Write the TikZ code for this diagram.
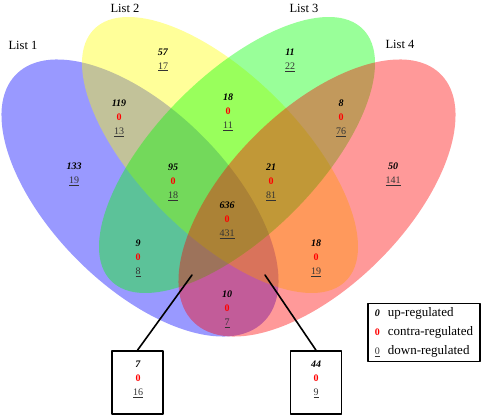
\documentclass[tikz,border=0pt]{standalone}
\usepackage{fontspec}
\setmainfont{Liberation Serif}
\definecolor{listblue}{RGB}{0,0,255}
\definecolor{listyellow}{RGB}{255,255,0}
\definecolor{listgreen}{RGB}{0,255,0}
\definecolor{listred}{RGB}{255,0,0}
\definecolor{contrared}{RGB}{255,0,0}
\newcommand{\upreg}[1]{\textbf{\textit{#1}}}
\newcommand{\contrareg}[1]{\textcolor{contrared}{\textbf{#1}}}
\newcommand{\downreg}[1]{\textcolor{black!80}{\underline{#1}}}
\newcommand{\legsym}[1]{{\fontsize{10}{10}\selectfont #1}}

\begin{document}
\begin{tikzpicture}[x=1pt,y=-1pt,line cap=round,line join=round,
    count/.style={align=center,font=\fontsize{10}{14}\selectfont,inner sep=0pt},
    listname/.style={font=\fontsize{12.5}{14}\selectfont,inner sep=0pt},
    countbox/.style={draw,line width=1.6pt,minimum width=51pt,minimum height=63pt,inner sep=0pt},
    legendbox/.style={draw,line width=1.6pt,align=left,font=\fontsize{13}{19}\selectfont,inner xsep=7pt,inner ysep=4pt}]
        \useasboundingbox (0,0) rectangle (484,417);
        % Ellipses
        \fill[listblue,opacity=0.4,rotate around={-45:(140,198)}] (140,198) ellipse [x radius=175,y radius=88];
        \fill[listyellow,opacity=0.4,rotate around={-45:(220,155)}] (220,155) ellipse [x radius=178,y radius=80];
        \fill[listgreen,opacity=0.4,rotate around={45:(237,155)}] (237,155) ellipse [x radius=178,y radius=80];
        \fill[listred,opacity=0.4,rotate around={45:(317,198)}] (317,198) ellipse [x radius=175,y radius=88];

        % List names
        \node[listname] (name1) at (23,45) {List 1};
        \node[listname] (name2) at (125,8) {List 2};
        \node[listname] (name3) at (304,8) {List 3};
        \node[listname] (name4) at (400,44) {List 4};

        % Counts
        \node[count] (n1) at (74,174.5) {\upreg{133}\\\downreg{19}};
        \node[count] (n2) at (163,60) {\upreg{57}\\\downreg{17}};
        \node[count] (n3) at (290,60) {\upreg{11}\\\downreg{22}};
        \node[count] (n4) at (393,174.5) {\upreg{50}\\\downreg{141}};
        \node[count] (n12) at (119,118) {\upreg{119}\\\contrareg{0}\\\downreg{13}};
        \node[count] (n23) at (228,112) {\upreg{18}\\\contrareg{0}\\\downreg{11}};
        \node[count] (n34) at (341,118) {\upreg{8}\\\contrareg{0}\\\downreg{76}};
        \node[count] (n123) at (173,182) {\upreg{95}\\\contrareg{0}\\\downreg{18}};
        \node[count] (n234) at (271,182) {\upreg{21}\\\contrareg{0}\\\downreg{81}};
        \node[count] (n1234) at (227,220) {\upreg{636}\\\contrareg{0}\\\downreg{431}};
        \node[count] (n13) at (138,258) {\upreg{9}\\\contrareg{0}\\\downreg{8}};
        \node[count] (n24) at (316,258) {\upreg{18}\\\contrareg{0}\\\downreg{19}};
        \node[count] (n14) at (227,309) {\upreg{10}\\\contrareg{0}\\\downreg{7}};

        % Call-out boxes
        \coordinate (p134) at (192,275);
        \coordinate (p124) at (265,275);
        \node[countbox] (box134) at (137.5,382.5) {};
        \node[countbox] (box124) at (316,382.5) {};
        \node[count] (n134) at (138,379) {\upreg{7}\\\contrareg{0}\\\downreg{16}};
        \node[count] (n124) at (316,379) {\upreg{44}\\\contrareg{0}\\\downreg{9}};
        \draw[line width=1.6pt] (box134.north) -- (p134);
        \draw[line width=1.6pt] (box124.north) -- (p124);

        % Legend
        \node[legendbox] (legend) at (424,332.5) {\legsym{\upreg{0}}\hspace{8pt}up-regulated\\
            \legsym{\contrareg{0}}\hspace{8pt}contra-regulated\\
            \legsym{\downreg{0}}\hspace{8pt}down-regulated};
    \end{tikzpicture}
\end{document}
